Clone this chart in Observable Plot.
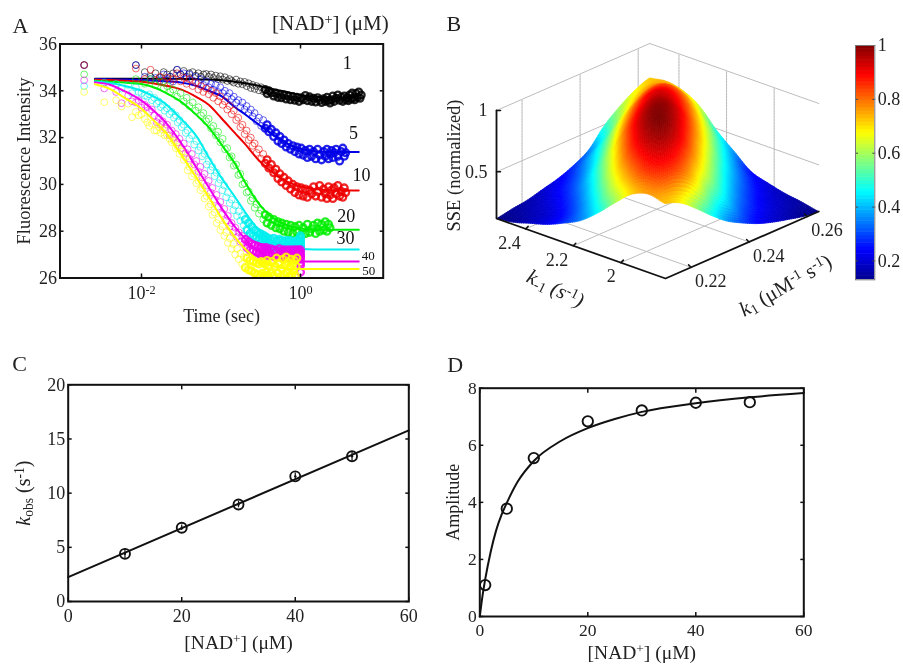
<!DOCTYPE html>
<html><head><meta charset="utf-8">
<script src="https://cdn.jsdelivr.net/npm/d3@7"></script>
<script src="https://cdn.jsdelivr.net/npm/@observablehq/plot@0.6"></script>
<style>
html,body{margin:0;padding:0;background:#fff}
#page{position:relative;width:903px;height:664px;overflow:hidden;filter:blur(0.4px)}
svg{position:absolute;overflow:visible}
</style></head><body><div id="page"></div>
<script>
// ---------- Panel A: time axis of the scatter and of the fits
const slowTimes=[.0019,.0085,.011,.013,.015,.017,.019,.021,.023,.025,
.028,.031,.034,.037,.04,.044,.048,.052,.056,.06,
.065,.07,.075,.08,.086,.092,.098,.105,.112,.12,
.128,.136,.145,.155,.165,.175,.186,.198,.21,.223,
.237,.25,.265,.28,.30,.32,.34,.36,.38,.40,
.43,.46,.49,.52,.55,.58,.62,.66,.70,.75,
.80,.85,.90,.96,1.02,1.08,1.15,1.22,1.3,1.38,
1.46,1.55,1.64,1.74,1.84,1.95,2.05,2.15,2.25,2.35,
2.45,2.55,2.65,2.8,2.95,3.1,3.25,3.4,3.55,3.7,
3.85,4.0,4.15,4.3,4.45,4.6,4.8,5.0,5.2,5.4,5.6,5.8];
const fastTimes=[.0019,.0034,.0048,.0056,.0068,.0076,.0085,.0092,.0100,.0110,
.0118,.0125,.0135,.0145,.0155,.0165,.0175,.0185,.0195,.021,
.0225,.024,.0255,.027,.0285,.030,.032,.034,.036,.038,
.040,.043,.046,.049,.052,.055,.058,.062,.066,.070,
.074,.078,.083,.088,.093,.098,.104,.110,.116,.122,
.129,.136,.143,.151,.159,.167,.175,.184,.193,.202,
.212,.222,.232,.243,.254,.266,.278,.29,.30,.31,
.32,.33,.34,.35,.36,.37,.38,.39,.40,.42,
.44,.46,.48,.50,.52,.54,.56,.58,.60,.62,
.64,.66,.68,.70,.72,.74,.76,.78,.80,.82,
.84,.86,.88,.90,.92,.94,.96,.98,1.0,1.0,
1.0,1.0,1.0,1.0,1.0,1.0];
const fitTimes=[.0026,.004,.006,.01,.015,.02,.03,.05,.07,.1,.15,.2,.3,.5,.7,1,1.5,2,3,5.4];
// measured fluorescence
const obs1=[35.1,35.1,34.8,34.6,34.75,34.55,34.8,34.7,34.6,34.75,
34.9,34.7,34.85,34.6,34.75,34.8,34.65,34.75,34.6,34.7,
34.72,34.6,34.7,34.55,34.65,34.5,34.62,34.48,34.58,34.42,
34.5,34.42,34.35,34.48,34.3,34.4,34.28,34.38,34.2,34.32,
34.12,34.25,34.08,34.2,34.02,34.15,33.98,34.05,33.88,34.0,
33.92,33.78,33.9,33.72,33.85,33.7,33.82,33.65,33.78,33.62,
33.75,33.6,33.72,33.55,33.7,33.62,33.8,33.58,33.74,33.55,
33.68,33.52,33.7,33.6,33.5,33.66,33.55,33.72,33.58,33.48,
33.62,33.78,33.55,33.68,33.82,33.6,33.72,33.55,33.78,33.62,
33.7,33.58,33.82,33.65,33.9,33.7,33.62,33.88,33.72,33.95,33.68,33.82];
const obs5=[35.1,35.1,34.6,34.5,34.55,34.45,34.7,34.5,34.6,34.4,
34.9,34.7,34.75,34.55,34.7,34.45,34.6,34.35,34.5,34.25,
34.4,34.15,34.3,34.05,34.25,33.95,34.15,33.9,34.0,33.75,
33.9,33.65,33.75,33.5,33.6,33.3,33.5,33.2,33.35,33.05,
33.2,32.9,33.05,32.7,32.85,32.5,32.75,32.4,32.55,32.25,
32.35,32.05,32.2,31.85,32.05,31.75,31.9,31.6,31.75,31.5,
31.65,31.4,31.6,31.3,31.55,31.25,31.45,31.15,31.5,31.2,
31.4,31.1,31.5,31.25,31.05,31.4,31.2,31.5,31.1,31.3,
31.45,31.15,31.35,31.5,31.2,31.0,31.4,31.55,31.2,31.35];
const obs10=[35.1,34.95,34.5,34.9,34.45,34.6,34.4,34.55,34.35,34.5,
34.75,34.4,34.55,34.3,34.5,34.2,34.35,34.05,34.2,33.95,
34.1,33.85,34.0,33.7,33.9,33.55,33.75,33.4,33.55,33.2,
33.35,33.0,33.15,32.75,32.85,32.45,32.55,32.15,32.3,31.9,
32.0,31.65,31.75,31.35,31.5,31.1,31.3,30.9,31.05,30.7,
30.85,30.5,30.65,30.25,30.45,30.1,30.3,29.95,30.15,29.8,
30.0,29.65,29.9,29.55,29.85,29.5,29.8,29.45,29.75,29.6,
29.9,29.5,29.7,29.95,29.45,29.8,29.6,29.4,29.9,29.55,
29.75,29.4,29.85,29.6,29.95,29.5,29.7,29.45,29.85,29.65];
const obs20=[34.7,34.5,34.3,34.5,34.25,34.4,34.1,34.2,33.95,34.05,
33.75,33.9,33.55,33.7,33.35,33.5,33.15,33.3,32.95,33.05,
32.7,32.8,32.4,32.5,32.1,32.25,31.8,31.95,31.5,31.55,
31.15,31.2,30.8,30.85,30.4,30.45,30.0,30.05,29.65,29.7,
29.3,29.4,29.0,29.15,28.75,28.9,28.5,28.7,28.35,28.6,
28.25,28.5,28.15,28.4,28.1,28.35,28.0,28.3,27.95,28.25,
27.9,28.2,27.95,28.25,27.85,28.15,27.9,28.3,27.95,28.1,
28.25,27.9,28.35,28.0,28.3,28.05,28.4,28.0,28.3,28.15];
const obs30=[34.2,34.35,34.3,34.1,34.25,33.9,34.15,33.95,33.9,33.8,
33.75,33.85,33.6,33.7,33.45,33.55,33.3,33.4,33.15,33.25,
33.0,33.1,32.85,32.95,32.65,32.75,32.45,32.55,32.2,32.3,
31.95,32.1,31.7,31.85,31.45,31.6,31.2,31.3,30.85,31.0,
30.6,30.75,30.35,30.5,30.05,30.2,29.75,29.95,29.45,29.65,
29.2,29.35,28.9,29.1,28.65,28.85,28.45,28.65,28.25,28.5,
28.05,28.35,27.9,28.2,27.8,28.05,27.7,27.95,27.6,27.9,
27.55,27.85,27.5,27.8,27.45,27.75,27.4,27.7,27.35,27.65,
27.35,27.7,27.3,27.6,27.35,27.65,27.3,27.6,27.25,27.55,
27.3,27.6,27.25,27.55,27.3,27.6,27.2,27.5,27.3,27.55,
27.2,27.5,27.25,27.6,27.3,27.5,27.2,27.55,27.7,27.35,
27.5,27.25,27.6,27.4,27.15,27.8];
const obs40=[34.45,34.1,33.95,33.47,33.8,33.55,33.5,33.6,33.28,33.4,
33.3,33.1,33.2,32.95,32.66,32.85,32.55,32.7,32.4,32.55,
32.1,32.3,32.0,32.15,31.8,31.95,31.55,31.75,31.35,31.5,
31.1,31.3,30.85,31.0,30.55,30.75,30.3,30.45,29.95,30.15,
29.65,29.85,29.35,29.55,29.05,29.25,28.75,28.95,28.45,28.65,
28.2,28.35,27.95,28.15,27.75,27.95,27.55,27.8,27.45,27.65,
27.3,27.55,27.2,27.45,27.15,27.4,27.1,27.35,27.05,27.3,
27.0,27.3,26.95,27.25,27.0,27.3,26.95,27.2,27.0,27.25,
26.95,27.2,26.9,27.15,26.95,27.25,26.9,27.15,27.0,27.2,
26.9,27.15,26.95,27.2,26.85,27.1,26.95,27.2,26.85,27.15,
26.95,27.2,26.9,27.1,26.95,27.2,26.85,27.1,27.2,26.95,
26.8,27.05,26.65,26.9,26.55,26.25];
const obs50=[33.95,33.51,33.6,33.33,33.45,32.87,33.1,32.95,33.0,32.8,
32.65,32.5,32.6,32.3,32.3,32.45,32.2,32.35,32.1,32.1,
31.96,31.8,31.85,31.55,31.6,31.3,31.4,31.05,31.15,30.6,
30.75,30.35,30.45,30.05,30.15,29.75,29.85,29.4,29.5,29.05,
29.15,28.7,28.8,28.35,28.5,28.05,28.2,27.8,27.95,27.5,
27.7,27.25,27.45,27.0,27.25,26.8,27.05,26.6,26.9,26.45,
26.85,26.35,26.75,26.3,26.7,26.2,26.65,26.15,26.6,26.1,
26.7,26.2,26.65,26.05,26.6,26.25,26.75,26.1,26.55,26.2,
26.7,26.1,26.5,26.85,26.2,26.65,26.05,26.4,26.8,26.15,
26.55,26.9,26.25,26.65,26.05,26.45,26.8,26.15,26.6,26.3,
26.75,26.1,26.5,26.85];
// fitted curves
const fit1=[34.52,34.52,34.52,34.52,34.52,34.52,34.51,34.49,34.48,34.45,34.39,34.32,34.22,34.04,33.94,33.82,33.75,33.72,33.70,33.70];
const fit5=[34.5,34.49,34.48,34.46,34.43,34.41,34.37,34.2,34.0,33.78,33.3,33.0,32.55,32.02,31.73,31.52,31.42,31.4,31.38,31.38];
const fit10=[34.47,34.46,34.43,34.39,34.3,34.22,34.08,33.72,33.4,32.85,32.19,31.73,31.02,30.38,30.1,29.91,29.8,29.76,29.74,29.74];
const fit20=[34.43,34.39,34.35,34.29,34.12,33.92,33.58,32.94,32.44,31.73,30.88,30.1,29.17,28.46,28.23,28.12,28.06,28.06,28.06,28.06];
const fit30=[34.40,34.33,34.22,34.0,33.72,33.44,32.87,32.02,31.16,30.31,29.46,28.82,28.03,27.47,27.3,27.24,27.22,27.22,27.22,27.22];
const fit40=[34.36,34.26,34.0,33.58,33.08,32.66,31.87,30.67,29.88,29.03,28.18,27.68,27.11,26.82,26.74,26.71,26.71,26.71,26.71,26.71];
const fit50=[34.28,34.08,33.72,33.23,32.66,32.23,31.38,30.24,29.46,28.6,27.75,27.25,26.75,26.47,26.40,26.38,26.38,26.38,26.38,26.38];
const seriesColors=["#000000","#0000e6","#ee0000","#00ee00","#00eeee","#ee00ee","#ffff00"];
const concLabels=["1","5","10","20","30","40","50"];
const concLabelT=[3.87,4.64,5.85,3.76,3.68,7.1,7.2];
const concLabelF=[35.18,32.19,30.38,28.63,27.72,26.96,26.32];
const concLabelSize=[18,18,18,18,18,13,13];

// ---------- Panel B: SSE surface, rows = k1, columns = k-1
const k1Grid=[.2112,.2165,.2218,.2270,.2323,.2376,.2429,.2482,.2534,.2587,.2640];
const kmGrid=[1.8125,1.8835,1.9545,2.0255,2.0965,2.1675,2.2385,2.3095,2.3805,2.4515,2.5225];
const sse=[
[.73,.76,.71,.59,.46,.35,.28,.22,.18,.14,.12],
[.68,.82,.85,.77,.63,.465,.333,.245,.193,.164,.142],
[.58,.80,.91,.91,.815,.645,.467,.326,.241,.193,.16],
[.47,.70,.876,.97,.945,.816,.627,.455,.318,.24,.193],
[.37,.54,.762,.93,1,.947,.798,.595,.419,.296,.226],
[.30,.435,.609,.802,.95,.994,.915,.749,.548,.391,.277],
[.24,.32,.46,.639,.826,.95,.962,.86,.69,.494,.35],
[.197,.25,.339,.477,.663,.826,.919,.915,.793,.615,.49],
[.165,.204,.257,.356,.492,.667,.812,.88,.842,.713,.59],
[.135,.17,.204,.259,.357,.496,.649,.774,.816,.76,.67],
[.12,.148,.17,.205,.25,.364,.48,.627,.71,.74,.72]];
const k1Ticks=[.22,.24,.26], kmTicks=[2,2.2,2.4], zTicks=[.5,1];
const zFloor=.12;
const jetStops=[.13,.239,.456,.674,.891,1];
const jetColors=["#00008f","#0000ff","#00ffff","#ffff00","#ff0000","#800000"];
const barTicks=[.2,.4,.6,.8,1];

// ---------- Panels C and D
const nad=[10,20,30,40,50];
const kobs=[4.4,6.8,8.95,11.55,13.4];
const kobsErr=[.5,.25,.3,.3,.4];
const kobsFitX=[0,60], kobsFitY=[2.25,15.8];
const nadAmp=[1,5,10,20,30,40,50];
const amp=[1.1,3.78,5.55,6.84,7.22,7.49,7.51];
const ampFitX=[0,.5,1,2,3,4,5,7,10,15,20,25,30,40,50,60];
const ampFitY=[0,.72,1.3,2.25,3.0,3.55,3.98,4.72,5.45,6.15,6.6,6.92,7.17,7.47,7.68,7.83];

// ---------- helpers
const FONT='"Liberation Serif"', INK="#222";
const page=document.getElementById("page");
function rich(svg){
  const re=/(\^\{[^}]*\}|_\{[^}]*\}|\/[^\/]+\/)/;
  svg.querySelectorAll("text").forEach(t=>{
    const s=t.textContent;
    if(!re.test(s))return;
    t.textContent="";
    s.split(re).filter(p=>p).forEach(p=>{
      const n=document.createElementNS("http://www.w3.org/2000/svg","tspan");
      if(p[0]==="^"||p[0]==="_"){
        n.textContent=p.slice(2,-1);
        n.setAttribute("style",`font-size:68%;baseline-shift:${p[0]==="^"?"0.42em":"-0.2em"}`);
      } else if(p[0]==="/"&&p.length>2){
        n.textContent=p.slice(1,-1);n.setAttribute("font-style","italic");
      } else n.textContent=p;
      t.appendChild(n);
    });
  });
}
function panel(left,top,w,h,opts){
  const svg=Plot.plot({width:w,height:h,style:{background:"transparent",fontFamily:FONT,overflow:"visible",color:INK},...opts});
  svg.style.left=left+"px";svg.style.top=top+"px";
  rich(svg);page.appendChild(svg);return svg;
}
function box(xs,ys,xf,yf,xPad=7,size=18){
  const tick={tickSize:-4,fill:"none",label:null,stroke:"#111",strokeWidth:1.5};
  return [
    Plot.axisX({anchor:"bottom",ticks:xs,tickSize:0,tickPadding:xPad,tickFormat:xf,label:null,fontSize:size,fill:INK}),
    Plot.axisY({anchor:"left",ticks:ys,tickSize:0,tickPadding:3,tickFormat:yf,label:null,fontSize:size,fill:INK}),
    Plot.axisX({anchor:"bottom",ticks:xs,...tick}),
    Plot.axisX({anchor:"top",ticks:xs,...tick}),
    Plot.axisY({anchor:"left",ticks:ys,...tick}),
    Plot.axisY({anchor:"right",ticks:ys,...tick}),
    Plot.frame({stroke:"#111",strokeWidth:2})
  ];
}
const note=(s,o)=>Plot.text([s],{text:d=>d,fill:INK,lineAnchor:"middle",textAnchor:"middle",...o});

// ---------- Panel A
const obs=[obs1,obs5,obs10,obs20,obs30,obs40,obs50];
const fits=[fit1,fit5,fit10,fit20,fit30,fit40,fit50];
const tailFrom=[.35,.35,.35,.35,.2,.2,.2];
const marksA=[];
obs.forEach((ys,i)=>{
  const T=i<4?slowTimes:fastTimes;
  marksA.push(Plot.dot(ys,{x:(d,j)=>T[j],y:d=>d,r:3.4,stroke:seriesColors[i],
    strokeWidth:(d,j)=>T[j]>tailFrom[i]?2.3:1,strokeOpacity:(d,j)=>T[j]>tailFrom[i]?.85:.58,clip:"frame"}));
  marksA.push(Plot.line(fitTimes,{x:fitTimes,y:fits[i],stroke:seriesColors[i],strokeWidth:2,curve:"monotone-x"}));
});
concLabels.forEach((l,i)=>marksA.push(Plot.text([l],{text:d=>d,x:[concLabelT[i]],y:[concLabelF[i]],fontSize:concLabelSize[i],fill:"#111"})));
panel(0,0,400,330,{
  marginLeft:59.5,marginRight:17.3,marginTop:43.5,marginBottom:52.5,
  x:{type:"log",domain:[10**-3.025,10**1.04],axis:null},
  y:{domain:[26,36],axis:null},
  marks:[...marksA,
    ...box([.01,1],[26,28,30,32,34,36],d=>d===.01?"10^{-2}":"10^{0}",d=>d,8),
    note("Time (sec)",{frameAnchor:"bottom",dy:38.5,fontSize:18}),
    note("Fluorescence Intensity",{frameAnchor:"left",dx:-35.5,rotate:-90,fontSize:18.5}),
    note("[NAD^{+}] (μM)",{frameAnchor:"top-right",dx:5.5,dy:-20.5,fontSize:21,textAnchor:"end"}),
    note("A",{frameAnchor:"top-left",dx:-47.5,dy:-18.5,fontSize:22,textAnchor:"start"})
  ]});

// ---------- Panel B
const K1=d3.extent(k1Grid), KM=d3.extent(kmGrid);
const u=k=>(k-K1[0])/(K1[1]-K1[0]), v=k=>(k-KM[0])/(KM[1]-KM[0]);
const px=(a,b)=>235+u(a)*153.3-v(b)*169;
const py=(a,b,z)=>278-u(a)*67-v(b)*60-(z-zFloor)/.88*108;
const P=(a,b,z)=>({x:px(a,b),y:py(a,b,z)});
const cr=(p0,p1,p2,p3,t)=>.5*(2*p1+(p2-p0)*t+(2*p0-5*p1+4*p2-p3)*t*t+(3*p1-p0-3*p2+p3)*t*t*t);
const at=(a,i)=>a[Math.max(0,Math.min(a.length-1,i))];
function shade(fi,fj){ // interpolated shading between read grid values
  const i=Math.min(9,Math.floor(fi)),j=Math.min(9,Math.floor(fj)),ti=fi-i,tj=fj-j;
  const row=r=>{const a=at(sse,r);return cr(at(a,j-1),at(a,j),at(a,j+1),at(a,j+2),tj);};
  return Math.max(.12,Math.min(1,cr(row(i-1),row(i),row(i+1),row(i+2),ti)));
}
const STEP=8,N=10*STEP;
const cells=[];
for(let a=0;a<N;a++)for(let b=0;b<N;b++)cells.push([a,b]);
cells.sort((p,q)=>(q[0]+q[1])-(p[0]+p[1]));
const k1At=d3.scaleLinear().domain(d3.range(11)).range(k1Grid);
const kmAt=d3.scaleLinear().domain(d3.range(11)).range(kmGrid);
const quads=[];
cells.forEach(([a,b],q)=>{
  const corners=[[a,b],[a+1,b],[a+1,b+1],[a,b+1]].map(([c,d])=>{const fi=c/STEP,fj=d/STEP,z=shade(fi,fj);return {...P(k1At(fi),kmAt(fj),z),z};});
  const c=d3.mean(corners,d=>d.z);
  corners.forEach(p=>quads.push({q,x:p.x,y:p.y,c}));
});
const seg=[];let sid=0;
function gridSeg(p1,p2,dash){sid++;seg.push({id:sid,dash,...p1},{id:sid,dash,...p2});}
k1Ticks.forEach(k=>gridSeg(P(k,KM[0],zFloor),P(k,KM[1],zFloor),0));
kmTicks.forEach(k=>gridSeg(P(K1[0],k,zFloor),P(K1[1],k,zFloor),0));
k1Ticks.forEach(k=>gridSeg(P(k,KM[1],zFloor),P(k,KM[1],1),1));
kmTicks.forEach(k=>gridSeg(P(K1[1],k,zFloor),P(K1[1],k,1),1));
zTicks.forEach(z=>{gridSeg(P(K1[0],KM[1],z),P(K1[1],KM[1],z),0);gridSeg(P(K1[1],KM[1],z),P(K1[1],KM[0],z),0);});
const axisB=[P(K1[0],KM[1],1),P(K1[0],KM[1],zFloor),P(K1[0],KM[0],zFloor),P(K1[1],KM[0],zFloor)];
const tickRows=[];let tid=0;
kmTicks.forEach(k=>{tid++;const p=P(K1[0],k,zFloor);tickRows.push({id:tid,...p},{id:tid,x:p.x+2.5,y:p.y-2.5});});
k1Ticks.forEach(k=>{tid++;const p=P(k,KM[0],zFloor);tickRows.push({id:tid,...p},{id:tid,x:p.x-2.5,y:p.y-2.5});});
zTicks.forEach(z=>{tid++;const p=P(K1[0],KM[1],z);tickRows.push({id:tid,...p},{id:tid,x:p.x+4,y:p.y});});
const jetScale={type:"linear",domain:jetStops,range:jetColors};
const txt=(rows,label,o)=>Plot.text(rows,{x:"x",y:"y",text:label,fill:INK,fontSize:18,...o});
panel(430,0,473,330,{
  margin:0,
  x:{domain:[0,473],range:[0,473],axis:null},
  y:{domain:[0,330],range:[0,330],axis:null},
  color:jetScale,
  marks:[
    Plot.line(seg.filter(d=>!d.dash),{x:"x",y:"y",z:"id",stroke:"#bdbdbd",strokeWidth:1}),
    Plot.line(seg.filter(d=>d.dash),{x:"x",y:"y",z:"id",stroke:"#b5b5b5",strokeWidth:1,strokeDasharray:"2,1"}),
    Plot.line(quads,{x:"x",y:"y",z:"q",fill:"c",stroke:"c",strokeWidth:.7,curve:"linear-closed"}),
    Plot.line(axisB,{x:"x",y:"y",stroke:"#111",strokeWidth:1.8}),
    Plot.line(tickRows,{x:"x",y:"y",z:"id",stroke:"#111",strokeWidth:1.5}),
    txt(kmTicks.map(k=>P(K1[0],k,zFloor)),(d,i)=>String(kmTicks[i]),{textAnchor:"end",dx:-5,dy:14}),
    txt(k1Ticks.map(k=>P(k,KM[0],zFloor)),(d,i)=>String(k1Ticks[i]),{textAnchor:"start",dx:4,dy:14}),
    txt(zTicks.map(z=>P(K1[0],KM[1],z)),(d,i)=>String(zTicks[i]),{textAnchor:"end",dx:-9}),
    note("B",{frameAnchor:"top-left",dx:16,dy:23,fontSize:22,textAnchor:"start"}),
    note("SSE (normalized)",{frameAnchor:"top-left",dx:24,dy:165,rotate:-90,fontSize:18.5}),
    note("/k/_{-1} /(s/^{-1}/)/",{frameAnchor:"top-left",dx:125,dy:288,rotate:26,fontSize:21}),
    note("/k/_{1} (μM^{-1} s^{-1})",{frameAnchor:"top-left",dx:355,dy:285,rotate:-30,fontSize:21})
  ]});

// ---------- colour bar
const barLevels=d3.range(.13,1,.87/64);
panel(840,0,63,330,{
  marginLeft:15,marginRight:28.7,marginTop:45,marginBottom:50.7,
  x:{domain:[0,1],axis:null},
  y:{domain:[.13,1],axis:null},
  color:jetScale,
  marks:[
    Plot.rect(barLevels,{x1:0,x2:1,y1:d=>d,y2:d=>d+.87/64+.002,fill:d=>d+.0068,clip:"frame"}),
    Plot.axisY({anchor:"right",ticks:barTicks,tickSize:0,tickPadding:3,tickFormat:d=>String(d),label:null,fontSize:18,fill:INK}),
    Plot.axisY({anchor:"left",ticks:barTicks,tickSize:-3,fill:"none",label:null,stroke:"#444"}),
    Plot.axisY({anchor:"right",ticks:barTicks,tickSize:-3,fill:"none",label:null,stroke:"#444"}),
    Plot.frame({stroke:"#777",strokeWidth:1})
  ]});

// ---------- Panel C
panel(0,340,430,324,{
  marginLeft:67.7,marginRight:21.7,marginTop:44.3,marginBottom:63,
  x:{domain:[0,60],axis:null},
  y:{domain:[0,20],axis:null},
  marks:[
    Plot.line(kobsFitX,{x:kobsFitX,y:kobsFitY,stroke:"#111",strokeWidth:2}),
    Plot.ruleX(nad,{x:d=>d,y1:(d,i)=>kobs[i]-kobsErr[i],y2:(d,i)=>kobs[i]+kobsErr[i],stroke:"#111",strokeWidth:1.2}),
    Plot.dot(nad,{x:d=>d,y:(d,i)=>kobs[i],r:5,stroke:"#111",strokeWidth:1.9}),
    Plot.dot(nad,{x:d=>d,y:(d,i)=>kobs[i],r:1.2,fill:"#111"}),
    ...box([0,20,40,60],[0,5,10,15,20],d=>d,d=>d,8),
    note("[NAD^{+}] (μM)",{frameAnchor:"bottom",dy:41.7,fontSize:19.5}),
    note("/k/_{obs} (s^{-1})",{frameAnchor:"left",dx:-44.7,rotate:-90,fontSize:20}),
    note("C",{frameAnchor:"top-left",dx:-56,dy:-21.3,fontSize:22,textAnchor:"start"})
  ]});

// ---------- Panel D
panel(430,340,400,324,{
  marginLeft:49.3,marginRight:26.7,marginTop:47.7,marginBottom:48,
  x:{domain:[0,60],axis:null},
  y:{domain:[0,8],axis:null},
  marks:[
    Plot.line(ampFitX,{x:ampFitX,y:ampFitY,stroke:"#111",strokeWidth:2,curve:"monotone-x"}),
    Plot.dot(nadAmp,{x:d=>d,y:(d,i)=>amp[i],r:5.2,stroke:"#111",strokeWidth:1.9}),
    ...box([0,20,40,60],[0,2,4,6,8],d=>d,d=>d,7,17.5),
    note("[NAD^{+}] (μM)",{frameAnchor:"bottom",dy:36.5,fontSize:19.5}),
    note("Amplitude",{frameAnchor:"left",dx:-26.6,rotate:-90,fontSize:18}),
    note("D",{frameAnchor:"top-left",dx:-32.6,dy:-23.7,fontSize:22,textAnchor:"start"})
  ]});
</script></body></html>
